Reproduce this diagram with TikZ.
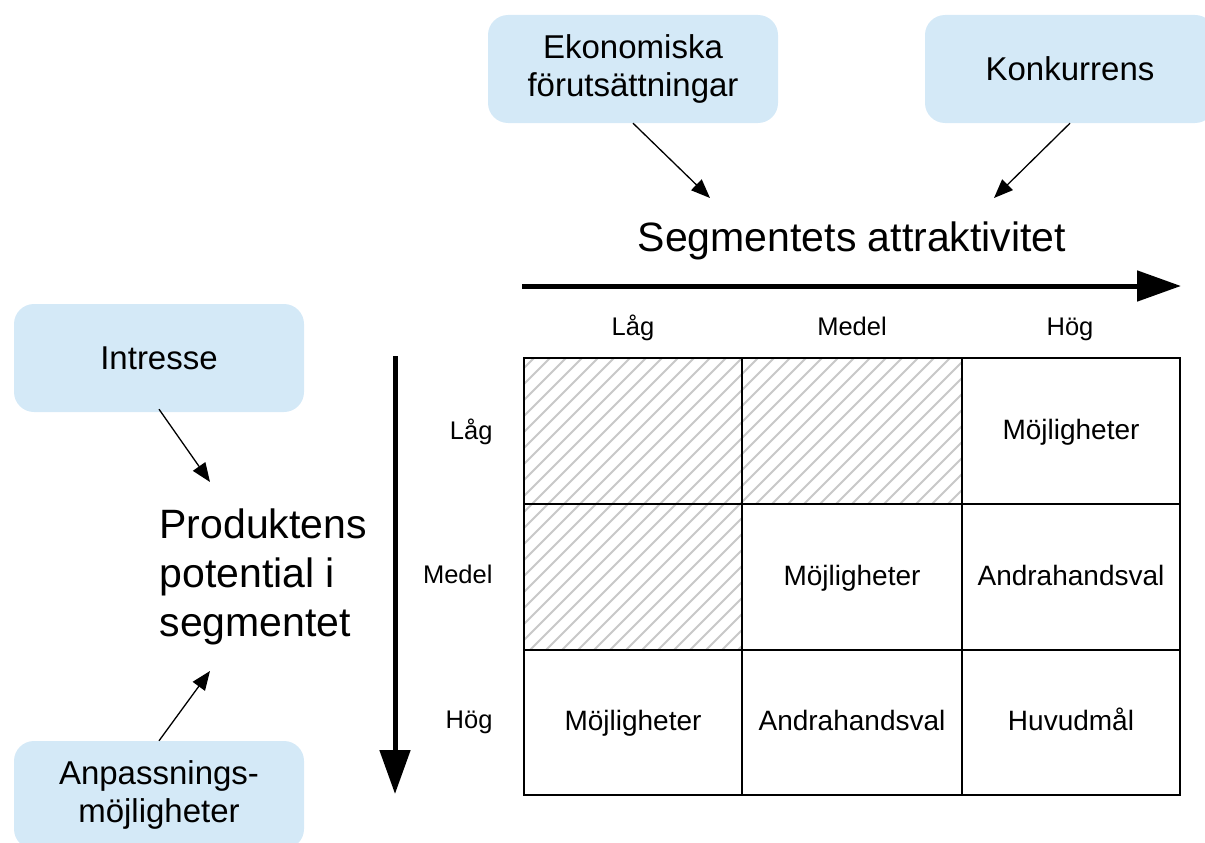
\documentclass[tikz,border=0pt]{standalone}
\usepackage{fontspec}
\setmainfont{Liberation Sans}
\usetikzlibrary{arrows.meta}
\definecolor{boxblue}{RGB}{212,233,247}
\definecolor{hatchgray}{RGB}{200,200,200}
\begin{document}
\begin{tikzpicture}[x=1pt,y=-1pt,
  factor/.style={fill=boxblue, rounded corners=20pt, minimum width=290pt, minimum height=108pt,
    inner sep=0pt, align=center, font=\fontsize{33}{38}\selectfont},
  thin arrow/.style={draw, line width=1.3pt, -{Triangle[length=19pt,width=15pt]}},
  axis arrow/.style={draw, line width=5pt, -{Triangle[length=44pt,width=30pt]}},
  celltext/.style={font=\fontsize{28}{33}\selectfont, text height=0.74em, text depth=0.21em, yshift=-6pt},
  axislabel/.style={font=\fontsize{25.5}{30}\selectfont, text height=0.74em, text depth=0.21em, yshift=-5pt},
  bigtitle/.style={font=\fontsize{41}{49}\selectfont}]
\useasboundingbox (0,0) rectangle (1205,843);
\clip (0,0) rectangle (1205,843);

% influencing factors
\node[factor] (eko) at (633,69) {Ekonomiska\\förutsättningar};
\node[factor] (kon) at (1070,69) {Konkurrens};
\node[factor] (int) at (159,358) {Intresse};
\node[factor] (anp) at (159,795) {Anpassnings-\\möjligheter};

% axis titles
\node[bigtitle] (attr) at (852,241) {Segmentets attraktivitet};
\node[bigtitle, align=left, anchor=west] (pot) at (156,577) {Produktens\\potential i\\segmentet};

\coordinate (ekoEnd) at (710,198);
\coordinate (konEnd) at (994,198);
\coordinate (intEnd) at (210,482);
\coordinate (anpEnd) at (210,671);
\draw[thin arrow] (eko.south) -- (ekoEnd);
\draw[thin arrow] (kon.south) -- (konEnd);
\draw[thin arrow] ([yshift=3pt]int.south) -- (intEnd);
\draw[thin arrow] (anp.north) -- (anpEnd);

% main axes
\coordinate (hStart) at (522,286);
\coordinate (hEnd) at (1181,286);
\coordinate (vStart) at (395,356);
\coordinate (vEnd) at (395,794);
\draw[axis arrow] (hStart) -- (hEnd);
\draw[axis arrow] (vStart) -- (vEnd);

% hatching of the unattractive cells
\begin{scope}
  \clip (524,358) -- (962,358) -- (962,504) -- (742,504) -- (742,650) -- (524,650) -- cycle;
  \foreach \i in {-30,...,60}
    \draw[hatchgray, line width=1.8pt] (524+\i*16,800) -- ++(500,-500);
\end{scope}

% grid
\draw[line width=2.5pt] (524,358) rectangle (1180,795);
\foreach \x in {742,962} \draw[line width=2.5pt] (\x,358) -- (\x,795);
\foreach \y in {504,650} \draw[line width=2.5pt] (524,\y) -- (1180,\y);

% column labels
\node[axislabel] (cLow) at (633,328) {Låg};
\node[axislabel] (cMid) at (852,328) {Medel};
\node[axislabel] (cHigh) at (1070,328) {Hög};

% row labels
\node[axislabel, anchor=east] (rLow) at (496,432) {Låg};
\node[axislabel, anchor=east] (rMid) at (496,576) {Medel};
\node[axislabel, anchor=east] (rHigh) at (496,721) {Hög};

% cell contents
\node[celltext] (c13) at (1071,431) {Möjligheter};
\node[celltext] (c22) at (852,577) {Möjligheter};
\node[celltext] (c23) at (1071,577) {Andrahandsval};
\node[celltext] (c31) at (633,722) {Möjligheter};
\node[celltext] (c32) at (852,722) {Andrahandsval};
\node[celltext] (c33) at (1071,722) {Huvudmål};
\end{tikzpicture}
\end{document}
